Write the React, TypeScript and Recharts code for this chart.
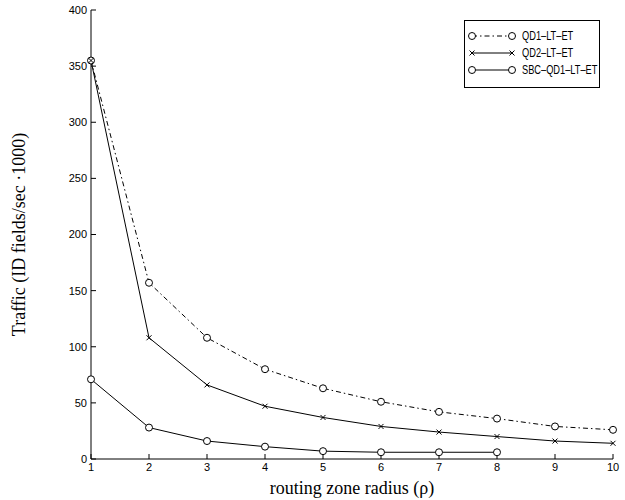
import { LineChart, Line, XAxis, YAxis, Legend } from "recharts"

const radius = [1, 2, 3, 4, 5, 6, 7, 8, 9, 10]
const qd1Traffic = [355, 157, 108, 80, 63, 51, 42, 36, 29, 26]
const qd2Traffic = [355, 108, 66, 47, 37, 29, 24, 20, 16, 14]
const sbcTraffic = [71, 28, 16, 11, 7, 6, 6, 6, null, null]
const yTicks = [0, 50, 100, 150, 200, 250, 300, 350, 400]
const seriesNames = ["QD1\u2013LT\u2013ET", "QD2\u2013LT\u2013ET", "SBC\u2013QD1\u2013LT\u2013ET"]

const data = radius.map((r, i) => ({
  r,
  qd1: qd1Traffic[i],
  qd2: qd2Traffic[i],
  sbc: sbcTraffic[i],
}))

const tickFont = { fill: "#000", fontSize: 11, fontFamily: "Liberation Sans, Arial, sans-serif" }
const labelFont = { fill: "#000", fontSize: 18, fontFamily: "Liberation Serif, Times New Roman, serif" }

function CircleDot(props: any) {
  const { cx, cy, index } = props
  if (cx == null || cy == null || Number.isNaN(cy)) return null
  return <circle key={`c-${index}`} cx={cx} cy={cy} r={3.5} fill="#fff" stroke="#000" strokeWidth={1} />
}

function CrossDot(props: any) {
  const { cx, cy, index } = props
  if (cx == null || cy == null) return null
  const s = 2.5
  return (
    <path
      key={`x-${index}`}
      d={`M${cx - s},${cy - s}L${cx + s},${cy + s}M${cx - s},${cy + s}L${cx + s},${cy - s}`}
      stroke="#000"
      strokeWidth={1}
    />
  )
}

function LegendBox() {
  const rows = [
    { name: seriesNames[0], dash: "5 3 1.5 3", marker: "o" },
    { name: seriesNames[1], dash: undefined, marker: "x" },
    { name: seriesNames[2], dash: undefined, marker: "o" },
  ]
  return (
    <div
      style={{
        width: 136,
        height: 68,
        boxSizing: "border-box",
        border: "1px solid #000",
        background: "#fff",
        position: "relative",
      }}
    >
      {rows.map((row, i) => (
        <div
          key={row.name}
          style={{ position: "absolute", left: 0, top: 7 + i * 17, height: 16, width: "100%" }}
        >
          <svg width={54} height={16} style={{ position: "absolute", left: 0, top: 0 }}>
            <line x1={7} y1={8} x2={47} y2={8} stroke="#000" strokeWidth={1} strokeDasharray={row.dash} />
            {row.marker === "o" ? (
              <>
                <circle cx={7} cy={8} r={3.5} fill="#fff" stroke="#000" />
                <circle cx={47} cy={8} r={3.5} fill="#fff" stroke="#000" />
              </>
            ) : (
              <>
                <CrossDot cx={7} cy={8} index={0} />
                <CrossDot cx={47} cy={8} index={1} />
              </>
            )}
          </svg>
          <span
            style={{
              position: "absolute",
              left: 57,
              top: 0,
              lineHeight: "16px",
              fontSize: 12.5,
              fontFamily: "Liberation Sans, Arial, sans-serif",
              color: "#000",
              whiteSpace: "nowrap",
              transform: "scaleX(0.74)",
              transformOrigin: "left center",
            }}
          >
            {row.name}
          </span>
        </div>
      ))}
    </div>
  )
}

export default function App() {
  return (
    <div style={{ position: "absolute", left: 0, top: 0, background: "#fff" }}>
      <LineChart width={625} height={500} data={data} margin={{ top: 10, right: 12, left: 0, bottom: 0 }}>
        <XAxis
          dataKey="r"
          type="number"
          domain={[1, 10]}
          ticks={radius}
          tickSize={-5}
          tickMargin={9}
          height={41}
          stroke="#000"
          tick={tickFont}
          label={{ value: "routing zone radius  (\u03c1)", position: "insideBottom", offset: 6, style: labelFont }}
        />
        <YAxis
          type="number"
          domain={[0, 400]}
          ticks={yTicks}
          tickSize={-5}
          tickMargin={9}
          width={91}
          stroke="#000"
          tick={tickFont}
          label={{
            value: "Traffic (ID fields/sec \u00b71000)",
            angle: -90,
            position: "center",
            dx: -27,
            style: { ...labelFont, textAnchor: "middle" },
          }}
        />
        <Legend
          layout="vertical"
          align="center"
          verticalAlign="middle"
          content={() => <LegendBox />}
          wrapperStyle={{ left: 464, top: 20, width: 136, height: 68 }}
        />
        <Line
          dataKey="qd1"
          name={seriesNames[0]}
          stroke="#000"
          strokeWidth={1}
          strokeDasharray="5 3 1.5 3"
          dot={<CircleDot />}
          isAnimationActive={false}
        />
        <Line
          dataKey="qd2"
          name={seriesNames[1]}
          stroke="#000"
          strokeWidth={1}
          dot={<CrossDot />}
          isAnimationActive={false}
        />
        <Line
          dataKey="sbc"
          name={seriesNames[2]}
          stroke="#000"
          strokeWidth={1}
          dot={<CircleDot />}
          isAnimationActive={false}
        />
      </LineChart>
    </div>
  )
}
